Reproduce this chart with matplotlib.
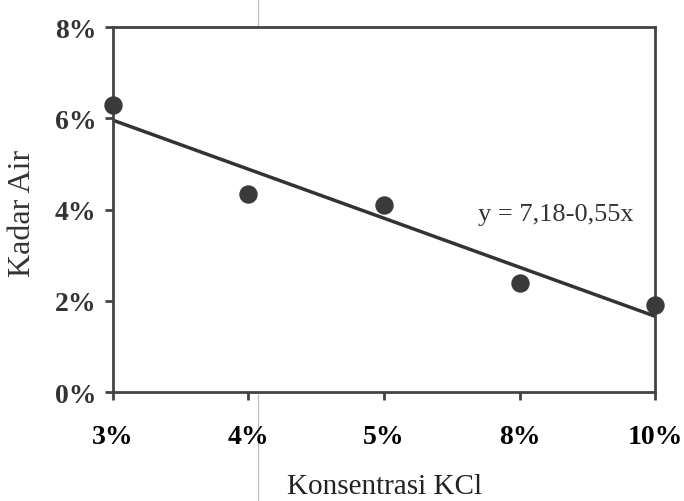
import numpy as np
import matplotlib.pyplot as plt
from matplotlib.lines import Line2D

# data
konsentrasi = ["3%", "4%", "5%", "8%", "10%"]
kadar_air = [6.3, 4.35, 4.1, 2.4, 1.9]
y_ticks = [0, 2, 4, 6, 8]

plt.rcParams['font.family'] = ['Liberation Serif', 'DejaVu Serif']

fig = plt.figure(figsize=(6.84, 5.02), dpi=100)
ax = fig.add_axes([0.165, 0.217, 0.793, 0.727])

pos = np.arange(1, len(konsentrasi) + 1)

# linear trend line on category positions
k, b = np.polyfit(pos, kadar_air, 1)
ax.plot(pos, k * pos + b, color='#333333', lw=2.5, zorder=2)
ax.scatter(pos, kadar_air, s=150, color='#3a3a3a', zorder=3, clip_on=False)

ax.text(3.69, 3.9, "y = 7,18-0,55x", fontsize=19, color='#333333', va='center')

ax.set_xlim(1, 5)
ax.set_ylim(0, 8)
ax.set_xticks(pos)
ax.set_xticklabels(konsentrasi, fontsize=20, fontweight='bold', color='black')
ax.set_yticks(y_ticks)
ax.set_yticklabels([f"{v}%" for v in y_ticks], fontsize=20, fontweight='bold', color='#333333')
ax.tick_params(axis='both', direction='out', length=6, width=2, color='#444444')
ax.tick_params(axis='x', pad=17)
ax.tick_params(axis='y', pad=6)

for s in ax.spines.values():
    s.set_color('#444444')
    s.set_linewidth(2)

ax.set_xlabel("Konsentrasi KCl", fontsize=21, color='#222222', va='center')
ax.xaxis.set_label_coords(0.5, -0.258)
ax.set_ylabel("Kadar Air", fontsize=23, color='#333333', va='center')
ax.yaxis.set_label_coords(-0.166, 0.493)

# faint scan line crossing the page
fig.add_artist(Line2D([258 / 684, 258 / 684], [0, 1], transform=fig.transFigure,
                      color='#bbbbbb', lw=0.8, zorder=0))

fig.savefig("out.png", dpi=100)
